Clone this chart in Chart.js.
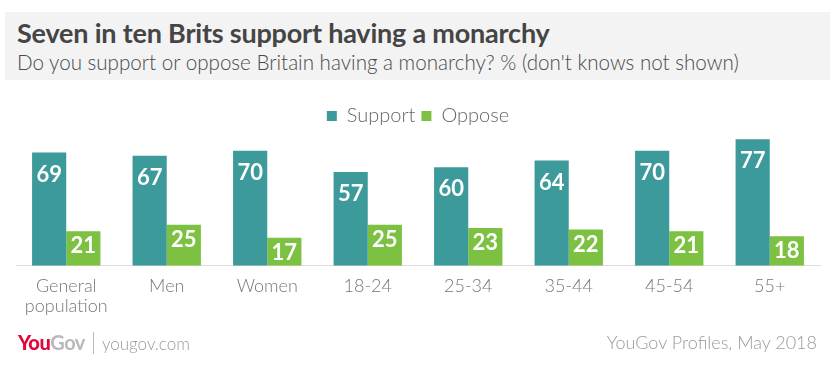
<!DOCTYPE html>
<html>
<head>
<meta charset="utf-8">
<script src="https://cdn.jsdelivr.net/npm/chart.js@4.4.1/dist/chart.umd.min.js"></script>
<style>
  html, body { margin: 0; padding: 0; background: #ffffff; }
  #page { position: relative; width: 830px; height: 365px; overflow: hidden; background: #fff; font-family: Lato, "Open Sans", sans-serif; }
  #header { position: absolute; left: 5px; top: 12px; width: 825px; height: 68px; background: #f3f3f4; }
  #title { position: absolute; left: 17px; top: 16px; font-size: 27px; font-weight: 700; color: #454545; white-space: nowrap; letter-spacing: -0.2px; }
  #subtitle { position: absolute; left: 17px; top: 50px; font-size: 20.6px; font-weight: 300; color: #4a4a4a; white-space: nowrap; }
  #chartBox { position: absolute; left: 0; top: 95px; width: 830px; height: 238px; }
  #logo { position: absolute; left: 18px; top: 330px; font-size: 20px; white-space: nowrap; }
  #logo .you { color: #e3063b; font-weight: 900; letter-spacing: -0.5px; }
  #logo .gov { color: #b9b9bd; font-weight: 700; letter-spacing: -0.5px; }
  #logo .sep { display: inline-block; width: 1px; height: 22px; background: #bbb; vertical-align: -4px; margin: 0 8px 0 8px; }
  #logo .site { color: #9a9a9e; font-size: 17px; font-weight: 300; }
  #source { position: absolute; right: 13px; top: 331px; font-size: 18px; font-weight: 300; color: #9a9a9e; white-space: nowrap; }
</style>
</head>
<body>
<div id="page">
  <div id="header"></div>
  <div id="title">Seven in ten Brits support having a monarchy</div>
  <div id="subtitle">Do you support or oppose Britain having a monarchy? % (don't knows not shown)</div>
  <div id="chartBox"><canvas id="chart"></canvas></div>
  <div id="logo"><span class="you">You</span><span class="gov">Gov</span><span class="sep"></span><span class="site">yougov.com</span></div>
  <div id="source">YouGov Profiles, May 2018</div>
</div>
<script>
const categories = [["General", "population"], "Men", "Women", "18-24", "25-34", "35-44", "45-54", "55+"];
const supportValues = [69, 67, 70, 57, 60, 64, 70, 77];
const opposeValues = [21, 25, 17, 25, 23, 22, 21, 18];
const seriesNames = ["Support", "Oppose"];

const SUPPORT_COLOR = "#3d9a9b";
const OPPOSE_COLOR = "#7dc142";

const valueLabels = {
  id: "valueLabels",
  afterDatasetsDraw(chart) {
    const ctx = chart.ctx;
    ctx.save();
    ctx.fillStyle = "#ffffff";
    ctx.font = "700 22px Lato, 'Open Sans', sans-serif";
    ctx.textAlign = "center";
    ctx.textBaseline = "middle";
    chart.data.datasets.forEach((ds, di) => {
      const meta = chart.getDatasetMeta(di);
      const offset = di === 0 ? 22 : 15;
      meta.data.forEach((bar, i) => {
        ctx.fillText(String(ds.data[i]), bar.x, bar.y + offset);
      });
    });
    ctx.restore();
  }
};

new Chart(document.getElementById("chart"), {
  type: "bar",
  data: {
    labels: categories,
    datasets: [
      { label: seriesNames[0], data: supportValues, backgroundColor: SUPPORT_COLOR },
      { label: seriesNames[1], data: opposeValues, backgroundColor: OPPOSE_COLOR }
    ]
  },
  options: {
    responsive: true,
    maintainAspectRatio: false,
    animation: false,
    layout: { padding: { left: 16, right: 10, top: 5, bottom: 7 } },
    datasets: { bar: { categoryPercentage: 0.68, barPercentage: 1.0 } },
    plugins: {
      legend: {
        position: "top",
        align: "center",
        labels: {
          boxWidth: 10, boxHeight: 10, padding: 6,
          color: "#666", font: { family: "Lato, 'Open Sans', sans-serif", size: 20, weight: 300 }
        }
      },
      tooltip: { enabled: false },
      title: { display: false }
    },
    scales: {
      x: {
        grid: { display: false, drawTicks: false },
        border: { display: true, color: "#dcdcdc", width: 1 },
        ticks: {
          padding: 10, color: "#777", maxRotation: 0, autoSkip: false,
          font: { family: "Lato, 'Open Sans', sans-serif", size: 18, weight: 300, lineHeight: 1.12 }
        }
      },
      y: {
        display: false,
        min: 0, max: 79,
        grid: { display: false }
      }
    }
  },
  plugins: [valueLabels]
});
</script>
</body>
</html>
